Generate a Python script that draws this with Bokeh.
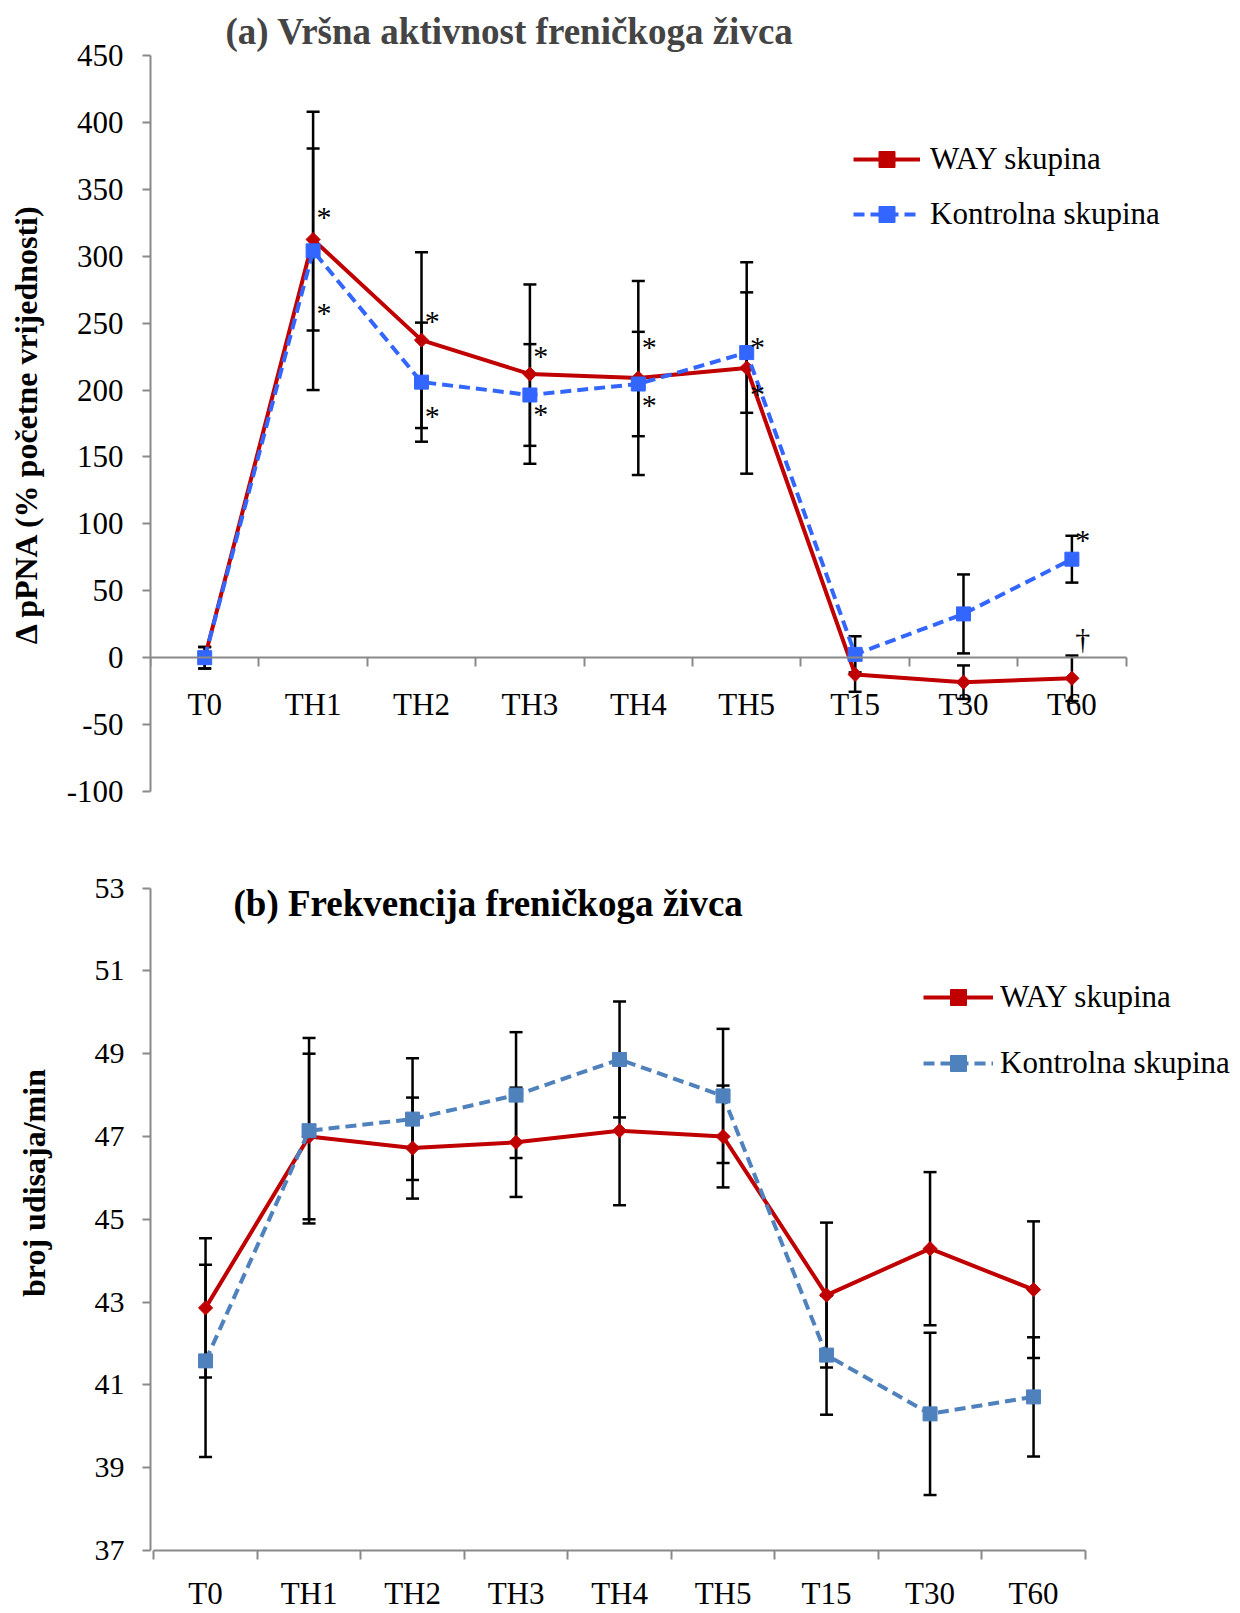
import math
from bokeh.plotting import figure
from bokeh.models import (Range1d, LinearAxis, FixedTicker,
                          Whisker, TeeHead, ColumnDataSource, Legend, LegendItem, Label)
from bokeh.transform import dodge
from bokeh.layouts import column
from bokeh.embed import file_html
from bokeh.resources import INLINE
from bokeh.core.properties import value

# ---------------- data ----------------
categories = ["T0", "TH1", "TH2", "TH3", "TH4", "TH5", "T15", "T30", "T60"]

a_way = [0, 312.5, 237.3, 211.9, 209, 216.5, -12.5, -18.3, -15.4]
a_way_err = [8, 68, 65.7, 67, 72.5, 79, 13, 12.5, 17]
a_ctrl = [0, 304, 205.9, 196.3, 204.5, 228, 2.5, 32.7, 73.6]
a_ctrl_err = [8, 104, 44.5, 38, 39, 45, 13.5, 29.5, 17.5]
a_yticks = [-100, -50, 0, 50, 100, 150, 200, 250, 300, 350, 400, 450]

a_mark_cats = ["TH1", "TH1", "TH2", "TH2", "TH3", "TH3", "TH4", "TH4", "TH5", "TH5", "T60", "T60"]
a_mark_vals = [335, 263, 257, 186, 231, 188, 238, 194.5, 238, 203, 93.3, 19.5]
a_mark_text = ["*", "*", "*", "*", "*", "*", "*", "*", "*", "*", "*", "†"]

b_way = [42.86, 47.0, 46.72, 46.86, 47.14, 47.0, 43.17, 44.29, 43.3]
b_way_err = [1.68, 2.0, 1.22, 1.32, 1.8, 1.23, 1.75, 1.85, 1.65]
b_ctrl = [41.58, 47.14, 47.42, 48.0, 48.86, 47.98, 41.72, 40.3, 40.71]
b_ctrl_err = [2.32, 2.24, 1.47, 1.52, 1.4, 1.62, 1.44, 1.96, 1.44]
b_yticks = [37, 39, 41, 43, 45, 47, 49, 51, 53]

series_names = ["WAY skupina", "Kontrolna skupina"]
title_a = "(a) Vršna aktivnost freničkoga živca"
title_b = "(b) Frekvencija freničkoga živca"
ylabel_a = "Δ pPNA (% početne vrijednosti)"
ylabel_b = "broj udisaja/min"

# ---------------- style ----------------
FONT = "Liberation Serif"
RED = "#C00000"
BLUE_A = "#3366FF"
BLUE_B = "#4F81BD"
GRAY = "#898989"

ncat = len(categories)
cat_pos = [i + 0.5 for i in range(ncat)]          # centre of each category slot
cat_index = {c: i + 0.5 for i, c in enumerate(categories)}


def build(height, xr, yr, ybounds, yticks, way, way_err, ctrl, ctrl_err, blue, axis_at,
          top_border, bottom_border, ytick_font, lab_standoff, ylabel, ylab_standoff, xlab_standoff,
          legend_loc, legend_glyph_w, legend_spacing, legend_standoff):
    p = figure(width=1240, height=height, x_range=Range1d(*xr),
               y_range=Range1d(*yr), output_backend="svg", toolbar_location=None,
               x_axis_type=None, y_axis_type=None,
               min_border_left=150, min_border_right=0,
               min_border_top=top_border, min_border_bottom=bottom_border)
    p.outline_line_color = None
    p.grid.visible = False

    # y axis
    ya = LinearAxis(ticker=FixedTicker(ticks=yticks), bounds=ybounds,
                    major_label_overrides={t: str(t) for t in yticks},
                    axis_line_color=GRAY, axis_line_width=2,
                    major_tick_line_color=GRAY, major_tick_line_width=2,
                    major_tick_out=8, major_tick_in=0, minor_tick_out=0,
                    major_label_text_font=FONT, major_label_text_font_size=ytick_font,
                    major_label_text_color="black", major_label_standoff=lab_standoff,
                    axis_label=ylabel, axis_label_text_font=FONT,
                    axis_label_text_font_style="bold", axis_label_text_font_size="32px",
                    axis_label_text_color="black", axis_label_standoff=ylab_standoff)
    p.add_layout(ya, "left")

    # x axis line + tick marks between categories
    xt = LinearAxis(ticker=FixedTicker(ticks=list(range(ncat + 1))), bounds=(0, ncat),
                    axis_line_color=GRAY, axis_line_width=2,
                    major_tick_line_color=GRAY, major_tick_line_width=2,
                    major_tick_out=9, major_tick_in=0, minor_tick_out=0,
                    major_label_overrides={i: "" for i in range(ncat + 1)},
                    major_label_text_font_size="1px", major_label_standoff=0,
                    fixed_location=axis_at)
    p.add_layout(xt, "below")
    # category labels at slot centres
    xl = LinearAxis(ticker=FixedTicker(ticks=cat_pos), bounds=(0, ncat),
                    major_label_overrides={pos: c for pos, c in zip(cat_pos, categories)},
                    axis_line_color=None, major_tick_line_color=None,
                    major_tick_out=0, major_tick_in=0, minor_tick_out=0,
                    major_label_text_font=FONT, major_label_text_font_size="31px",
                    major_label_text_color="black", major_label_standoff=xlab_standoff,
                    fixed_location=axis_at)
    p.add_layout(xl, "below")

    src_w = ColumnDataSource(dict(x=cat_pos, y=way, upper=[v + e for v, e in zip(way, way_err)],
                                  lower=[v - e for v, e in zip(way, way_err)]))
    src_c = ColumnDataSource(dict(x=cat_pos, y=ctrl, upper=[v + e for v, e in zip(ctrl, ctrl_err)],
                                  lower=[v - e for v, e in zip(ctrl, ctrl_err)]))
    for s in (src_w, src_c):
        w = Whisker(base="x", upper="upper", lower="lower", source=s, dimension="height",
                    line_color="black", line_width=2.5,
                    upper_head=TeeHead(size=13, line_color="black", line_width=2.5),
                    lower_head=TeeHead(size=13, line_color="black", line_width=2.5))
        p.add_layout(w)

    lw = p.line(x="x", y="y", source=src_w, line_color=RED, line_width=4)
    mw = p.scatter(x="x", y="y", source=src_w, marker="square", angle=math.pi / 4, size=10,
                   fill_color=RED, line_color=RED)
    lc = p.line(x="x", y="y", source=src_c, line_color=blue, line_width=4, line_dash="11 6")
    mc = p.scatter(x="x", y="y", source=src_c, marker="square", size=14,
                   fill_color=blue, line_color=blue)

    leg = Legend(items=[LegendItem(label=series_names[0], renderers=[lw, mw]),
                        LegendItem(label=series_names[1], renderers=[lc, mc])],
                 location=legend_loc, glyph_width=legend_glyph_w, glyph_height=40,
                 label_height=40, label_standoff=legend_standoff, spacing=legend_spacing,
                 padding=0, margin=0, border_line_color=None, background_fill_alpha=0,
                 label_text_font=FONT, label_text_font_size="31px", label_text_color="black")
    p.add_layout(leg)
    return p


# ---------------- panel (a) ----------------
# frame: x 150..1240 (slot width 108.4 px), y 55..791 for -100..450
pa = build(812, (0, 1090 / 108.4), (-100, 450), "auto", a_yticks,
           a_way, a_way_err, a_ctrl, a_ctrl_err, BLUE_A, 0,
           55, 21, "31px", 19, ylabel_a, 20, 29,
           (703, 557), 67, 15, 10)
pa.title.text = title_a
pa.title.text_font = FONT
pa.title.text_font_size = "37px"
pa.title.text_font_style = "bold"
pa.title.align = "left"
pa.title.offset = 75
pa.title.standoff = 7

src_m = ColumnDataSource(dict(x=[cat_index[c] for c in a_mark_cats], y=a_mark_vals, t=a_mark_text))
pa.text(x=dodge("x", 0.1), y="y", text="t", source=src_m, y_offset=7,
        text_font=value(FONT), text_font_size="30px", text_align="center",
        text_baseline="middle", text_color="black")

# ---------------- panel (b) ----------------
# frame: x 150..1240 (slot width 103.5 px, first slot at 153); y frame 815..1551 on the page,
# 37 at the bottom edge, 53 at 887.7 (41.46 px per unit)
b_x0 = -3.3 / 103.5
b_y1 = 53 + (887.7 - 815) / 41.46
pb = build(801, (b_x0, b_x0 + 1090 / 103.5), (37, b_y1), (37, 53), b_yticks,
           b_way, b_way_err, b_ctrl, b_ctrl_err, BLUE_B, None,
           3, 62, "30px", 18, ylabel_b, 40, 16,
           (773, 467), 70, 26, 7)
pb.title.visible = False
pb.add_layout(Label(x=0.77, y=52.63, text=title_b, text_font=FONT,
                    text_font_size="37px", text_font_style="bold", text_baseline="middle",
                    text_color="black"))

layout = column(pa, pb, spacing=0)
open("out.html", "w").write(file_html(layout, INLINE))
